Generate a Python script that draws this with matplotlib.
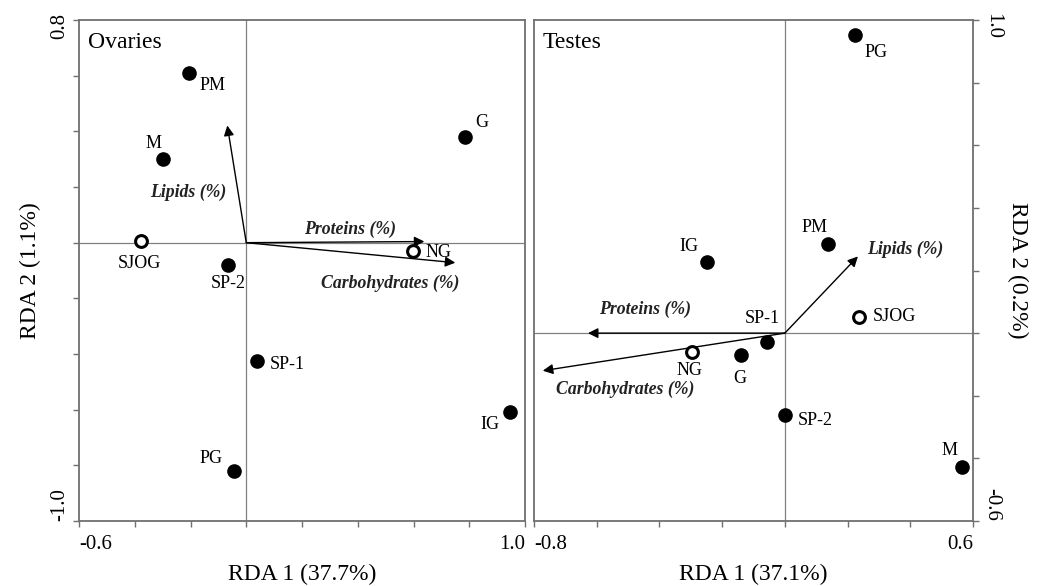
import matplotlib
matplotlib.use("Agg")
import matplotlib.pyplot as plt

plt.rcParams['font.family'] = ['Liberation Serif', 'DejaVu Serif']

# Ovaries (left panel)
ov_sites = ['PM', 'M', 'G', 'SJOG', 'SP-2', 'NG', 'SP-1', 'IG', 'PG']
ov_x = [-0.204, -0.298, 0.786, -0.377, -0.065, 0.599, 0.039, 0.947, -0.043]
ov_y = [0.611, 0.299, 0.381, 0.007, -0.079, -0.029, -0.424, -0.608, -0.820]
ov_open = [False, False, False, True, False, True, False, False, False]
ov_vars = ['Lipids (%)', 'Proteins (%)', 'Carbohydrates (%)']
ov_vx = [-0.068, 0.639, 0.750]
ov_vy = [0.421, 0.004, -0.072]

# Testes (right panel)
te_sites = ['PG', 'PM', 'IG', 'SJOG', 'SP-1', 'G', 'NG', 'SP-2', 'M']
te_x = [0.223, 0.137, -0.249, 0.236, -0.057, -0.140, -0.297, 0.000, 0.564]
te_y = [0.952, 0.286, 0.226, 0.053, -0.027, -0.069, -0.059, -0.261, -0.427]
te_open = [False, False, False, True, False, False, True, False, False]
te_vars = ['Lipids (%)', 'Proteins (%)', 'Carbohydrates (%)']
te_vx = [0.233, -0.628, -0.772]
te_vy = [0.245, 0.000, -0.120]

# label offsets in pixels (layout only)
ov_site_off = [(23, -13), (-10, 16), (16, 14), (-2, -23), (0, -19), (25, -2), (30, -4), (-20, -13), (-23, 12)]
ov_var_off = [(-39, -67), (-74, 12), (-65, -21)]
te_site_off = [(21, -17), (-13, 16), (-18, 16), (36, 0), (-5, 23), (-1, -24), (-2, -19), (30, -6), (-12, 16)]
te_var_off = [(47, 7), (57, 24), (82, -19)]

fig = plt.figure(figsize=(10.38, 5.86), dpi=100)
ax1 = fig.add_axes([79 / 1038, 1 - 521 / 586, 446 / 1038, 501 / 586])
ax2 = fig.add_axes([534 / 1038, 1 - 521 / 586, 439 / 1038, 501 / 586])

spine_col = '#707070'


def draw_panel(ax, sites, xs, ys, opens, site_off, vars_, vx, vy, var_off, title):
    ax.axhline(0, color='#808080', lw=0.9, zorder=1)
    ax.axvline(0, color='#808080', lw=0.9, zorder=1)
    for s, x, y, o, off in zip(sites, xs, ys, opens, site_off):
        if o:
            ax.plot(x, y, 'o', ms=8.5, mfc='white', mec='black', mew=2.2, zorder=4)
        else:
            ax.plot(x, y, 'o', ms=9.5, mfc='black', mec='black', zorder=4)
        ax.annotate(s, (x, y), xytext=off, textcoords='offset pixels',
                    ha='center', va='center', fontsize=13, zorder=5)
    for v, x, y, off in zip(vars_, vx, vy, var_off):
        ax.annotate('', xy=(x, y), xytext=(0, 0),
                    arrowprops=dict(arrowstyle='-|>', color='black', lw=1.0,
                                    mutation_scale=15, shrinkA=0, shrinkB=0), zorder=3)
        ax.annotate(v, (x, y), xytext=off, textcoords='offset pixels',
                    ha='center', va='center', fontsize=12.8, style='italic',
                    weight='bold', color='#222222')
    ax.text(0.02, 0.955, title, transform=ax.transAxes, fontsize=17, va='center', ha='left')
    for sp in ax.spines.values():
        sp.set_color(spine_col)
        sp.set_linewidth(1.3)


draw_panel(ax1, ov_sites, ov_x, ov_y, ov_open, ov_site_off, ov_vars, ov_vx, ov_vy, ov_var_off, 'Ovaries')
draw_panel(ax2, te_sites, te_x, te_y, te_open, te_site_off, te_vars, te_vx, te_vy, te_var_off, 'Testes')

# left panel axes
ax1.set_xlim(-0.6, 1.0)
ax1.set_ylim(-1.0, 0.8)
xt = [-0.6, -0.4, -0.2, 0.0, 0.2, 0.4, 0.6, 0.8, 1.0]
ax1.set_xticks(xt)
ax1.set_xticklabels(['-0.6'] + [''] * 7 + ['1.0'])
yt = [-1.0, -0.8, -0.6, -0.4, -0.2, 0.0, 0.2, 0.4, 0.6, 0.8]
ax1.set_yticks(yt)
ax1.set_yticklabels(['-1.0'] + [''] * 8 + ['0.8'], rotation=90)
ax1.tick_params(direction='out', length=4, width=1, color=spine_col, labelsize=15, pad=6)
ax1.tick_params(axis='y', pad=3)
ax1.get_xticklabels()[0].set_ha('left')
ax1.get_xticklabels()[-1].set_ha('right')
ax1.get_yticklabels()[0].set_va('bottom')
ax1.set_xlabel('RDA 1 (37.7%)', fontsize=17, labelpad=7)
ax1.set_ylabel('RDA 2 (1.1%)', fontsize=17, labelpad=7)

# right panel axes
ax2.set_xlim(-0.8, 0.6)
ax2.set_ylim(-0.6, 1.0)
xt2 = [-0.8, -0.6, -0.4, -0.2, 0.0, 0.2, 0.4, 0.6]
ax2.set_xticks(xt2)
ax2.set_xticklabels(['-0.8'] + [''] * 6 + ['0.6'])
yt2 = [-0.6, -0.4, -0.2, 0.0, 0.2, 0.4, 0.6, 0.8, 1.0]
ax2.yaxis.tick_right()
ax2.yaxis.set_label_position('right')
ax2.set_yticks(yt2)
ax2.set_yticklabels(['-0.6'] + [''] * 7 + ['1.0'], rotation=270)
ax2.tick_params(direction='out', length=4, width=1, color=spine_col, labelsize=15, pad=6)
ax2.tick_params(axis='y', pad=3)
ax2.get_xticklabels()[0].set_ha('left')
ax2.get_xticklabels()[-1].set_ha('right')
ax2.get_yticklabels()[0].set_va('bottom')
ax2.set_xlabel('RDA 1 (37.1%)', fontsize=17, labelpad=7)
ax2.set_ylabel('RDA 2 (0.2%)', fontsize=17, labelpad=19, rotation=270)

fig.savefig('out.png', dpi=100)
